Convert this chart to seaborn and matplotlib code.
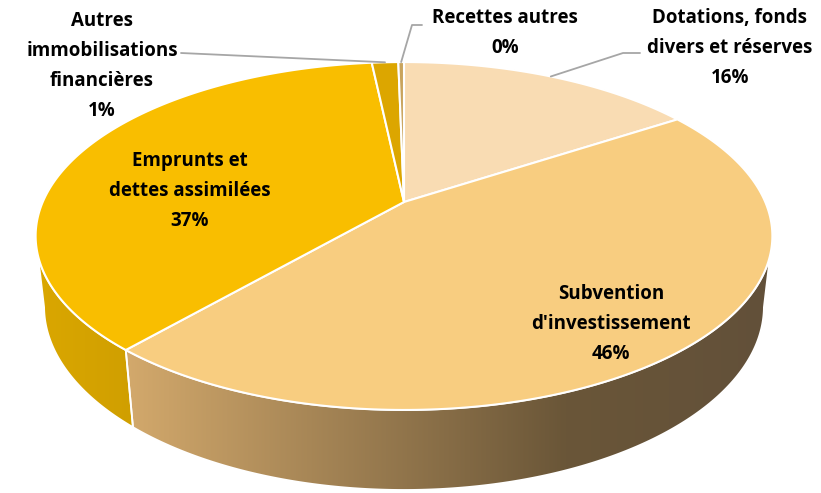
import numpy as np
import matplotlib
matplotlib.use("Agg")
import matplotlib.pyplot as plt
from matplotlib.patches import Polygon
from matplotlib.colors import to_rgb
import seaborn as sns

# ---- data ----
categories = ["Dotations, fonds\ndivers et réserves",
              "Subvention\nd'investissement",
              "Emprunts et\ndettes assimilées",
              "Autres\nimmobilisations\nfinancières",
              "Recettes autres"]
shares = [15.8, 45.6, 36.9, 1.4, 0.3]

# ---- styling ----
top_colors = ["#F9DCB3", "#F8CD80", "#F9BE00", "#DCA600", "#C9A45C"]
side_stops = [["#E3C090", "#C9A878"],
              ["#D3A96C", "#6A5638", "#62503A"],
              ["#DAA700", "#D09F00"],
              ["#C99600", "#C99600"],
              ["#B08A50", "#B08A50"]]
label_pos = [(730, 48), (611, 324), (190, 191), (102, 66), (505, 33)]
leader_elbow = [((640, 53), (623, 53)), None, None,
                ((181, 53), (181, 53)), ((422, 25), (412, 25))]

sns.set_theme(style="white")
plt.rcParams["font.family"] = ["Open Sans", "DejaVu Sans"]

# ---- perspective projection of a tilted cylinder ----
SIN_T = 0.4631
COS_T = np.sqrt(1 - SIN_T ** 2)
DIST = 4.534
SCALE = 1638.0
THICK = 0.2214
CX, CY = 404.0, 202.0


def project(theta, z=0.0, r=1.0):
    X = r * np.sin(theta)
    Y = r * np.cos(theta)
    yc = Y * SIN_T + z * COS_T
    zc = DIST + Y * COS_T - z * SIN_T
    return CX + SCALE * X / zc, CY - SCALE * yc / zc


fig = plt.figure(figsize=(8.21, 4.93), dpi=100)
ax = fig.add_axes([0, 0, 1, 1])

total = float(sum(shares))
bounds = np.concatenate([[0], np.cumsum(shares)]) / total * 2 * np.pi
vis_lo = np.arccos(-COS_T / DIST)
vis_hi = 2 * np.pi - vis_lo

# side walls (front part only)
for i in range(len(shares)):
    a, b = max(bounds[i], vis_lo), min(bounds[i + 1], vis_hi)
    if b <= a:
        continue
    th = np.linspace(a, b, 200)
    tx, ty = project(th, 0.0)
    bx, by = project(th[::-1], -THICK)
    pts = np.column_stack([np.r_[tx, bx], np.r_[ty, by]])
    poly = Polygon(pts, closed=True, facecolor="none", edgecolor="none")
    ax.add_patch(poly)
    x0, x1 = pts[:, 0].min(), pts[:, 0].max()
    y0, y1 = pts[:, 1].min(), pts[:, 1].max()
    stops = [to_rgb(c) for c in side_stops[i]]
    pos = np.linspace(0, 1, len(stops))
    if len(stops) == 3:
        pos = np.array([0, 0.68, 1.0])
    t = np.linspace(0, 1, 400)
    grad = np.stack([np.interp(t, pos, [s[k] for s in stops]) for k in range(3)], axis=-1)
    img = ax.imshow(grad[None, :, :], extent=(x0, x1, y1, y0), aspect="auto",
                    interpolation="bilinear", zorder=1)
    img.set_clip_path(poly)
    ax.add_patch(Polygon(pts, closed=True, facecolor="none", edgecolor="white",
                         lw=1.3, zorder=2))

# top faces
for i in range(len(shares)):
    th = np.linspace(bounds[i], bounds[i + 1], max(4, int(400 * shares[i] / total)))
    ax_, ay_ = project(th, 0.0)
    pts = np.column_stack([np.r_[CX, ax_], np.r_[CY, ay_]])
    ax.add_patch(Polygon(pts, closed=True, facecolor=top_colors[i], edgecolor="white",
                         lw=1.5, joinstyle="round", zorder=3))

# labels and leader lines
for i, name in enumerate(categories):
    pct = f"{round(shares[i] / total * 100):d}%"
    lx, ly = label_pos[i]
    ax.text(lx, ly, f"{name}\n{pct}", ha="center", va="center", fontsize=13.5,
            fontweight="bold", color="black", linespacing=1.66, zorder=5)
    if leader_elbow[i] is not None:
        mid = 0.5 * (bounds[i] + bounds[i + 1])
        ex, ey = project(mid, 0.0)
        (sx, sy), (kx, ky) = leader_elbow[i]
        ax.plot([sx, kx, ex], [sy, ky, ey], color="#A6A6A6", lw=1.3, zorder=4)

ax.set_xlim(0, 821)
ax.set_ylim(493, 0)
ax.axis("off")
fig.savefig("out.png", dpi=100, facecolor="white")
